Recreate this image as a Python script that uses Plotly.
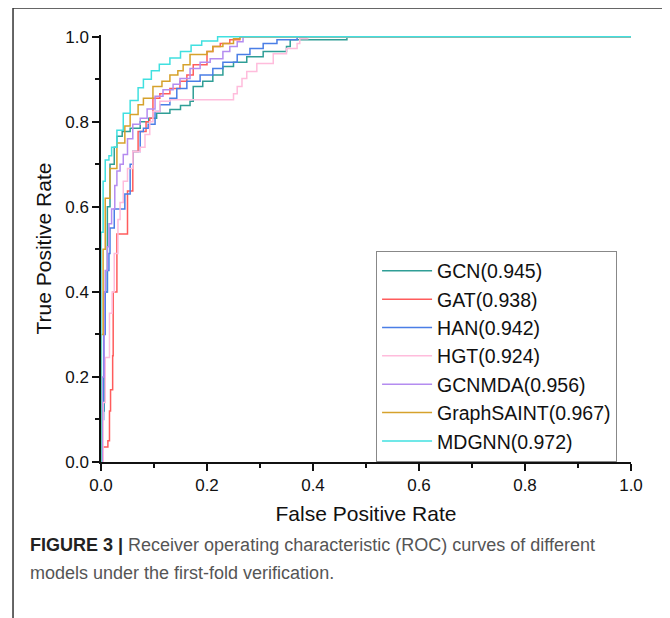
import plotly.graph_objects as go

# ROC step points (false positive rate, true positive rate)
models = ["GCN(0.945)", "GAT(0.938)", "HAN(0.942)", "HGT(0.924)",
          "GCNMDA(0.956)", "GraphSAINT(0.967)", "MDGNN(0.972)"]

gcn_fpr = [0, 0.002, 0.002, 0.006, 0.006, 0.012, 0.012, 0.017, 0.025, 0.03, 0.04, 0.055, 0.074, 0.09,
           0.105, 0.13, 0.15, 0.168, 0.174, 0.192, 0.211, 0.23, 0.25, 0.275, 0.306, 0.35, 0.357, 0.464, 0.464, 1]
gcn_tpr = [0, 0.12, 0.12, 0.4, 0.4, 0.6, 0.6, 0.70, 0.74, 0.766, 0.777, 0.785, 0.80, 0.808,
           0.82, 0.829, 0.838, 0.848, 0.883, 0.895, 0.91, 0.93, 0.94, 0.953, 0.965, 0.977, 0.993, 0.993, 1.0, 1.0]

gat_fpr = [0, 0.003, 0.003, 0.01, 0.013, 0.016, 0.018, 0.022, 0.023, 0.03, 0.03, 0.042, 0.05, 0.06, 0.07,
           0.085, 0.092, 0.098, 0.111, 0.13, 0.149, 0.162, 0.174, 0.2, 0.2, 0.211, 0.225, 0.243, 0.262, 1]
gat_tpr = [0, 0, 0.035, 0.035, 0.05, 0.12, 0.17, 0.25, 0.40, 0.40, 0.536, 0.536, 0.637, 0.73, 0.777,
           0.80, 0.808, 0.855, 0.866, 0.878, 0.895, 0.91, 0.934, 0.937, 0.965, 0.977, 0.984, 0.993, 1.0, 1.0]

han_fpr = [0, 0.002, 0.002, 0.005, 0.008, 0.012, 0.015, 0.017, 0.025, 0.025, 0.045, 0.045, 0.055, 0.06,
           0.074, 0.08, 0.089, 0.102, 0.111, 0.13, 0.143, 0.162, 0.187, 0.211, 0.23, 0.257, 0.281, 0.306,
           0.332, 0.37, 1]
han_tpr = [0, 0.1, 0.1, 0.3, 0.40, 0.45, 0.49, 0.55, 0.55, 0.595, 0.595, 0.63, 0.70, 0.73,
           0.777, 0.785, 0.794, 0.824, 0.84, 0.855, 0.878, 0.895, 0.91, 0.925, 0.94, 0.958, 0.972, 0.984,
           0.993, 1.0, 1.0]

hgt_fpr = [0, 0.004, 0.004, 0.008, 0.008, 0.016, 0.016, 0.021, 0.025, 0.032, 0.036, 0.042, 0.05, 0.06,
           0.074, 0.083, 0.092, 0.098, 0.111, 0.13, 0.238, 0.25, 0.257, 0.266, 0.275, 0.294, 0.325, 0.35,
           0.37, 0.375, 0.39, 1]
hgt_tpr = [0, 0.14, 0.14, 0.246, 0.246, 0.35, 0.35, 0.40, 0.49, 0.57, 0.61, 0.66, 0.69, 0.73,
           0.74, 0.77, 0.80, 0.824, 0.848, 0.852, 0.852, 0.866, 0.883, 0.902, 0.918, 0.937, 0.96, 0.972,
           0.984, 0.995, 1.0, 1.0]

gcnmda_fpr = [0, 0.002, 0.002, 0.006, 0.008, 0.012, 0.015, 0.02, 0.026, 0.03, 0.036, 0.042, 0.05, 0.06,
              0.074, 0.087, 0.102, 0.117, 0.136, 0.149, 0.168, 0.187, 0.206, 0.23, 0.243, 0.257, 0.268, 1]
gcnmda_tpr = [0, 0.2, 0.2, 0.40, 0.45, 0.506, 0.56, 0.595, 0.65, 0.684, 0.70, 0.723, 0.76, 0.794,
              0.808, 0.83, 0.86, 0.875, 0.888, 0.902, 0.925, 0.94, 0.948, 0.965, 0.977, 0.988, 1.0, 1.0]

saint_fpr = [0, 0, 0.004, 0.004, 0.008, 0.008, 0.017, 0.03, 0.045, 0.055, 0.07, 0.08, 0.098, 0.115,
             0.13, 0.145, 0.155, 0.168, 0.2, 0.211, 0.23, 0.25, 0.262, 1]
saint_tpr = [0, 0.3, 0.3, 0.5, 0.5, 0.62, 0.69, 0.75, 0.79, 0.817, 0.84, 0.855, 0.883, 0.895,
             0.91, 0.92, 0.934, 0.958, 0.965, 0.977, 0.984, 0.995, 1.0, 1.0]

mdgnn_fpr = [0, 0, 0.004, 0.004, 0.008, 0.008, 0.015, 0.02, 0.03, 0.042, 0.055, 0.07, 0.08, 0.095,
             0.11, 0.13, 0.15, 0.17, 0.19, 0.22, 1.0]
mdgnn_tpr = [0, 0.54, 0.54, 0.66, 0.66, 0.71, 0.72, 0.74, 0.78, 0.82, 0.85, 0.88, 0.90, 0.92,
             0.935, 0.95, 0.965, 0.98, 0.99, 1.0, 1.0]

fprs = [gcn_fpr, gat_fpr, han_fpr, hgt_fpr, gcnmda_fpr, saint_fpr, mdgnn_fpr]
tprs = [gcn_tpr, gat_tpr, han_tpr, hgt_tpr, gcnmda_tpr, saint_tpr, mdgnn_tpr]
colors = ["#2f9e96", "#ff5c5c", "#4a7ee6", "#ffbcdc", "#b48cf0", "#d6a22c", "#40e0e0"]

fig = go.Figure()
for name, x, y, c in zip(models, fprs, tprs, colors):
    fig.add_trace(go.Scatter(x=x, y=y, mode="lines", name=name,
                             line=dict(color=c, width=1.5, shape="hv")))

font = "Arial, Liberation Sans, sans-serif"
axis = dict(showline=True, linecolor="#111", linewidth=1.5, ticks="outside", ticklen=7,
            tickwidth=1.5, tickcolor="#111", showgrid=False, zeroline=False,
            tickfont=dict(family=font, size=17, color="#111"),
            minor=dict(ticks="outside", ticklen=4, tickwidth=1.5, tickcolor="#111", dtick=0.1))

# the page body adds an 8px offset, margins are trimmed for it
fig.update_layout(
    width=670, height=618,
    margin=dict(l=93, r=47, t=27, b=164),
    paper_bgcolor="white", plot_bgcolor="white",
    xaxis=dict(axis, range=[0, 1], dtick=0.2, tickformat=".1f",
               title=dict(text="False Positive Rate", font=dict(family=font, size=21, color="#111"), standoff=12)),
    yaxis=dict(axis, range=[0, 1.004], dtick=0.2, tickformat=".1f",
               title=dict(text="True Positive Rate", font=dict(family=font, size=21, color="#111"), standoff=8)),
    legend=dict(x=0.519, y=0.495, xanchor="left", yanchor="top",
                bordercolor="#888", borderwidth=1, bgcolor="white",
                font=dict(family=font, size=19.5, color="#111"),
                itemwidth=50, tracegroupgap=0),
    showlegend=True,
)

# figure frame (top and left edges)
fig.add_shape(type="line", xref="paper", yref="paper", x0=-0.166, x1=1.1, y0=1.0632, y1=1.0632,
              line=dict(color="#333", width=1.5))
fig.add_shape(type="line", xref="paper", yref="paper", x0=-0.166, x1=-0.166, y0=1.0632, y1=-0.40,
              line=dict(color="#333", width=1.5))

fig.add_annotation(xref="paper", yref="paper", x=-0.138, y=-0.194, xanchor="left", yanchor="middle",
                   showarrow=False, align="left",
                   text="<b style='color:#222'>FIGURE 3 |</b> Receiver operating characteristic (ROC) curves of different",
                   font=dict(family=font, size=18, color="#555"))
fig.add_annotation(xref="paper", yref="paper", x=-0.138, y=-0.26, xanchor="left", yanchor="middle",
                   showarrow=False, align="left",
                   text="models under the first-fold verification.",
                   font=dict(family=font, size=18, color="#555"))

fig.write_html("out.html")
